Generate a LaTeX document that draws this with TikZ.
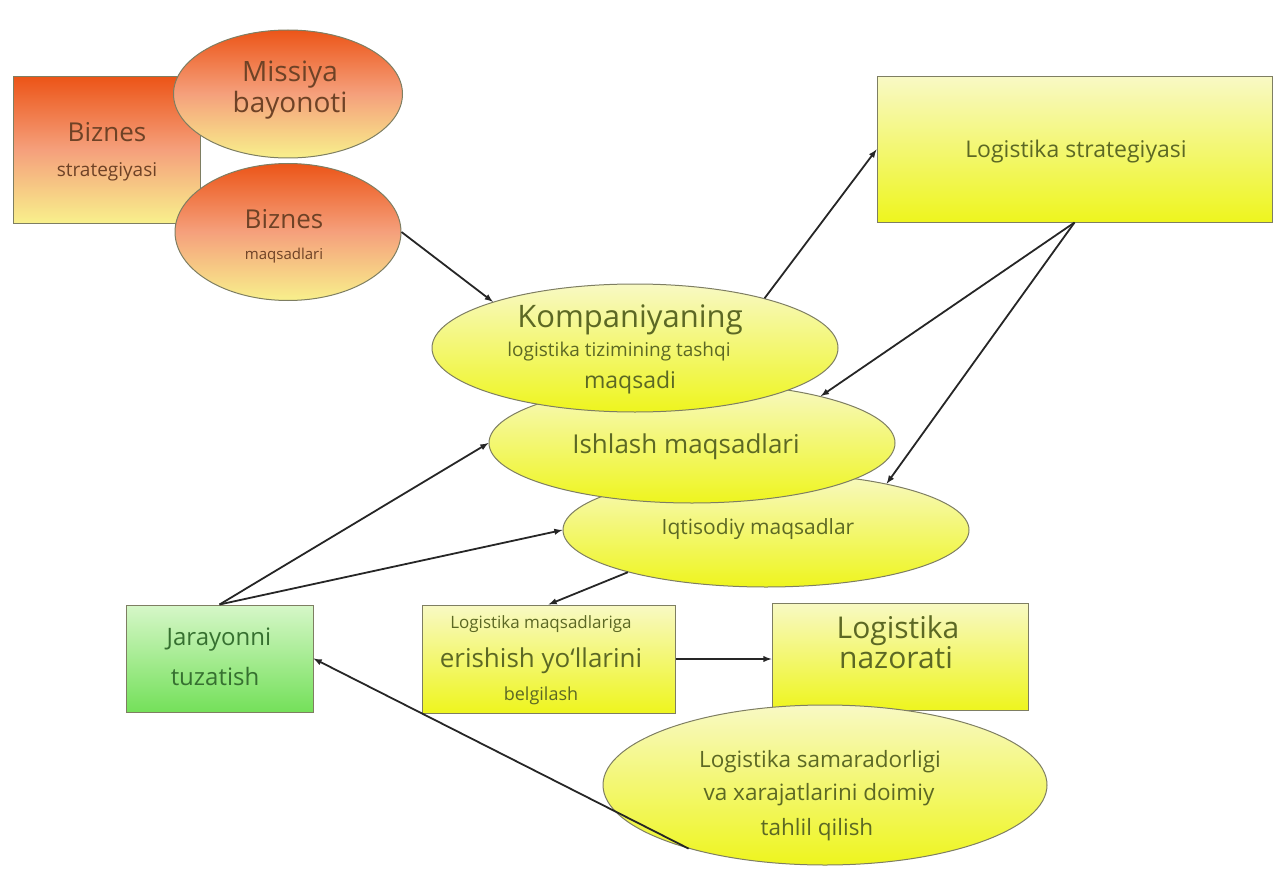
\documentclass[tikz,border=0pt]{standalone}
\usepackage{fontspec}
\setmainfont{Open Sans}
\usepackage{tikz}
\usetikzlibrary{shapes, arrows, positioning}
\definecolor{qizil}{HTML}{EC5518}
\definecolor{pushti}{HTML}{F5A07C}
\definecolor{ochsariq}{HTML}{F8F08C}
\definecolor{sariq}{HTML}{EEF51E}
\definecolor{xira}{HTML}{F8F9C4}
\definecolor{yashil}{HTML}{74E05A}
\definecolor{ochyashil}{HTML}{D6F7C8}
\definecolor{jigar}{HTML}{6E4226}
\definecolor{zaytun}{HTML}{5C6824}
\definecolor{tyashil}{HTML}{367030}
\definecolor{chegara}{HTML}{7E7E62}
\definecolor{chiziq}{HTML}{262626}
\newcommand{\fsz}[1]{\fontsize{#1}{#1}\selectfont}
\tikzstyle{apelsin} = [draw=chegara, line width=1pt, top color=qizil, bottom color=ochsariq, middle color=pushti, inner sep=0pt]
\tikzstyle{limon} = [draw=chegara, line width=1pt, top color=xira, bottom color=sariq, inner sep=0pt]
\tikzstyle{maysa} = [draw=chegara, line width=1pt, top color=ochyashil, bottom color=yashil, inner sep=0pt]
\tikzstyle{matn} = [anchor=base, inner sep=0pt]
\tikzstyle{strelka} = [draw=chiziq, line width=1.8pt, -latex]

\begin{document}
\begin{tikzpicture}[x=1pt, y=-1pt]
	\useasboundingbox (0,0) rectangle (1273,869);
	\node[apelsin, rectangle, minimum width=187pt, minimum height=146pt] (bstr) at (106.5,150) {};
	\node[apelsin, ellipse, minimum width=229pt, minimum height=128pt] (miss) at (288,94) {};
	\node[apelsin, ellipse, minimum width=226pt, minimum height=137pt] (bmaq) at (288,232) {};
	\node[limon, rectangle, minimum width=395pt, minimum height=145pt] (lstr) at (1074.5,149.5) {};
	\node[limon, ellipse, minimum width=406pt, minimum height=114pt] (iqt) at (766,530) {};
	\node[limon, ellipse, minimum width=406pt, minimum height=120pt] (ishl) at (692,443) {};
	\node[limon, ellipse, minimum width=406pt, minimum height=128pt] (komp) at (635,348) {};
	\node[maysa, rectangle, minimum width=187pt, minimum height=107pt] (jar) at (219.5,658.5) {};
	\node[limon, rectangle, minimum width=253pt, minimum height=108pt] (lmaq) at (548.5,659) {};
	\node[limon, rectangle, minimum width=256pt, minimum height=107pt] (lnaz) at (900,656.5) {};
	\node[limon, ellipse, minimum width=444pt, minimum height=160pt] (sam) at (825,785) {};

	\node[matn, text=jigar, font=\fsz{28}] (miss1) at (290,82) {Missiya};
	\node[matn, text=jigar, font=\fsz{28}] (miss2) at (290,113) {bayonoti};
	\node[matn, text=jigar, font=\fsz{26}] (bstr1) at (107,142) {Biznes};
	\node[matn, text=jigar, font=\fsz{19}] (bstr2) at (107,177) {strategiyasi};
	\node[matn, text=jigar, font=\fsz{26}] (bmaq1) at (284,228) {Biznes};
	\node[matn, text=jigar, font=\fsz{15}] (bmaq2) at (284,259) {maqsadlari};
	\node[matn, text=zaytun, font=\fsz{23}] (lstr1) at (1076,158) {Logistika strategiyasi};
	\node[matn, text=zaytun, font=\fsz{31}] (komp1) at (630,327) {Kompaniyaning};
	\node[matn, text=zaytun, font=\fsz{19}] (komp2) at (619,356) {logistika tizimining tashqi};
	\node[matn, text=zaytun, font=\fsz{23}] (komp3) at (630,388) {maqsadi};
	\node[matn, text=zaytun, font=\fsz{26}] (ishl1) at (686,453) {Ishlash maqsadlari};
	\node[matn, text=zaytun, font=\fsz{21}] (iqt1) at (758,534) {Iqtisodiy maqsadlar};
	\node[matn, text=tyashil, font=\fsz{24}] (jar1) at (219,645) {Jarayonni};
	\node[matn, text=tyashil, font=\fsz{24}] (jar2) at (215,685) {tuzatish};
	\node[matn, text=zaytun, font=\fsz{17}] (lmaq1) at (541,628) {Logistika maqsadlariga};
	\node[matn, text=zaytun, font=\fsz{26}] (lmaq2) at (541,667) {erishish yo‘llarini};
	\node[matn, text=zaytun, font=\fsz{18}] (lmaq3) at (541,700) {belgilash};
	\node[matn, text=zaytun, font=\fsz{30}] (lnaz1) at (898,638) {Logistika};
	\node[matn, text=zaytun, font=\fsz{30}] (lnaz2) at (896,668) {nazorati};
	\node[matn, text=zaytun, font=\fsz{22.5}] (sam1) at (820,767) {Logistika samaradorligi};
	\node[matn, text=zaytun, font=\fsz{22.5}] (sam2) at (819,800) {va xarajatlarini doimiy};
	\node[matn, text=zaytun, font=\fsz{22.5}] (sam3) at (817,835) {tahlil qilish};

	\draw[strelka] (bmaq.east) -- (komp.162);
	\draw[strelka] (komp.21) -- (lstr.west);
	\draw[strelka] (lstr.south) -- (ishl.20);
	\draw[strelka] (lstr.south) -- (iqt.21);
	\draw[strelka] (jar.north) -- (ishl.west);
	\draw[strelka] (jar.north) -- (iqt.west);
	\draw[strelka] (iqt.197) -- (lmaq.north);
	\draw[strelka] (lmaq.east) -- (lnaz.west |- lmaq.east);
	\draw[strelka] (sam.205) -- (jar.east);
\end{tikzpicture}
\end{document}
